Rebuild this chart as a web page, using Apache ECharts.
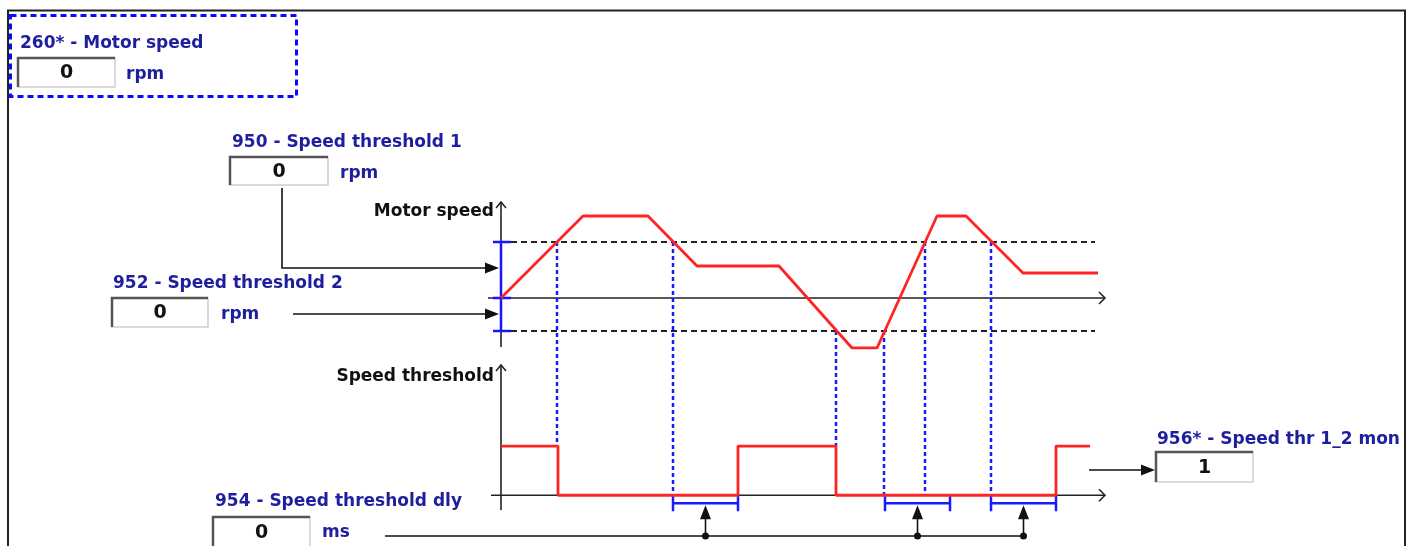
<!DOCTYPE html>
<html><head><meta charset="utf-8">
<script src="https://cdn.jsdelivr.net/npm/echarts@6/dist/echarts.min.js"></script>
<style>html,body{margin:0;padding:0;background:#fff;}#c{width:1413px;height:546px;}</style>
</head><body><div id="c"></div>
<script>
// ---- data (time in arbitrary units, speed in arbitrary units) ----
const timeUnits = [0, 82, 147, 196, 278, 351, 376, 436, 465, 522, 597];
const motorSpeed = [0, 82, 82, 32, 32, -50, -50, 82, 82, 25, 25];
const speedThreshold1 = 56;
const speedThreshold2 = -33;
const monTime = [0, 57, 237, 335, 555, 589];
const monState = [1, 0, 1, 0, 1, 1];
const crossTime = [56, 172, 335, 383, 424, 490];
const crossLevel = [56, 56, -33, -33, 56, 56];
const crossEndState = [1, 0, 1, 0, 0, 0];
const delayStart = [172, 384, 490];
const delayLength = 65;
const paramTitles = ['260* - Motor speed', '950 - Speed threshold 1', '952 - Speed threshold 2', '954 - Speed threshold dly', '956* - Speed thr 1_2 mon'];
const paramValues = ['0', '0', '0', '0', '1'];
const paramUnits = ['rpm', 'rpm', 'rpm', 'ms', ''];
const axisNames = ['Motor speed', 'Speed threshold'];

const BLUE_TXT = '#1e1e9e';
const RED = '#ff2424';
const FONT = 'DejaVu Sans';
const FS = 17;

const chart = echarts.init(document.getElementById('c'));
chart.setOption({
  animation: false,
  grid: [
    {left: 501, top: 202, width: 604, height: 146},
    {left: 501, top: 365, width: 604, height: 145}
  ],
  xAxis: [
    {gridIndex: 0, type: 'value', min: 0, max: 604, show: false},
    {gridIndex: 1, type: 'value', min: 0, max: 604, show: false}
  ],
  yAxis: [
    {gridIndex: 0, type: 'value', min: -50, max: 96, show: false},
    {gridIndex: 1, type: 'value', min: -0.3, max: 2.65, show: false}
  ],
  series: [
    {type: 'line', xAxisIndex: 0, yAxisIndex: 0, symbol: 'none', z: 10,
     data: timeUnits.map((t, i) => [t, motorSpeed[i]]),
     lineStyle: {color: RED, width: 2.8}},
    {type: 'line', xAxisIndex: 1, yAxisIndex: 1, symbol: 'none', step: 'end', z: 10,
     data: monTime.map((t, i) => [t, monState[i]]),
     lineStyle: {color: RED, width: 2.8}}
  ]
});

const P0 = (t, v) => chart.convertToPixel({gridIndex: 0}, [t, v]);
const P1 = (t, v) => chart.convertToPixel({gridIndex: 1}, [t, v]);

const g = [];
function line(x1, y1, x2, y2, stroke, w, dash, z) {
  g.push({type: 'line', z: z || 2, shape: {x1, y1, x2, y2},
    style: {stroke, lineWidth: w, lineDash: dash || null}});
}
function poly(points, fill, z) {
  g.push({type: 'polygon', z: z || 3, shape: {points}, style: {fill}});
}
function chev(points, z) {
  g.push({type: 'polyline', z: z || 3, shape: {points}, style: {stroke: '#222', lineWidth: 1.5, fill: null}});
}
function text(x, y, str, color, align, size, weight) {
  g.push({type: 'text', z: 6, x, y, style: {text: str, fill: color, align: align || 'left',
    verticalAlign: 'middle', fontFamily: FONT, fontSize: size || FS, fontWeight: weight || 'bold'}});
}
function arrowR(x, y) { poly([[x, y], [x - 14, y - 5.5], [x - 14, y + 5.5]], '#111'); }
function arrowU(x, y) { poly([[x, y], [x - 5.5, y + 14], [x + 5.5, y + 14]], '#111'); }
function box(x, y, w, h, val) {
  g.push({type: 'rect', z: 4, shape: {x, y, width: w, height: h}, style: {fill: '#fff', stroke: '#d0d0d0', lineWidth: 1.5}});
  g.push({type: 'polyline', z: 5, shape: {points: [[x, y + h], [x, y], [x + w, y]]}, style: {stroke: '#555', lineWidth: 2.5, fill: null}});
  text(x + w / 2, y + h / 2 + 1, val, '#111', 'center', 19, 'bold');
}

// frame
g.push({type: 'rect', z: 20, shape: {x: 8, y: 10.5, width: 1397, height: 560}, style: {fill: null, stroke: '#222', lineWidth: 2}});
// dashed selection box
g.push({type: 'rect', z: 7, shape: {x: 10.5, y: 15.5, width: 286, height: 81}, style: {fill: null, stroke: '#0a0aff', lineWidth: 3, lineDash: [6, 4]}});

// parameter blocks
text(20, 44, paramTitles[0], BLUE_TXT); box(18, 58, 97, 29, paramValues[0]); text(126, 75, paramUnits[0], BLUE_TXT);
text(232, 143, paramTitles[1], BLUE_TXT); box(230, 157, 98, 28, paramValues[1]); text(340, 174, paramUnits[1], BLUE_TXT);
text(113, 284, paramTitles[2], BLUE_TXT); box(112, 298, 96, 29, paramValues[2]); text(221, 315, paramUnits[2], BLUE_TXT);
text(215, 502, paramTitles[3], BLUE_TXT); box(213, 517, 97, 30, paramValues[3]); text(322, 533, paramUnits[3], BLUE_TXT);
text(1157, 440, paramTitles[4], BLUE_TXT); box(1156, 452, 97, 30, paramValues[4]);

// ---- motor speed diagram ----
const o0 = P0(0, 0);
const top0 = P0(0, 96), bot0 = P0(0, -50);
const end0 = P0(604, 0);
text(494, 212, axisNames[0], '#111', 'right');
line(o0[0], top0[1], o0[0], bot0[1] - 1, '#222', 1.6);
chev([[o0[0] - 5, top0[1] + 6], [o0[0], top0[1]], [o0[0] + 5, top0[1] + 6]]);
line(488, o0[1], end0[0], o0[1], '#222', 1.6);
chev([[end0[0] - 6, o0[1] - 6], [end0[0], o0[1]], [end0[0] - 6, o0[1] + 6]]);
// threshold lines
const t1a = P0(0, speedThreshold1), t1b = P0(594, speedThreshold1);
const t2a = P0(0, speedThreshold2), t2b = P0(594, speedThreshold2);
line(t1a[0], t1a[1], t1b[0], t1b[1], '#222', 2.2, [6, 4]);
line(t2a[0], t2a[1], t2b[0], t2b[1], '#222', 2.2, [6, 4]);
// blue scale on axis
line(o0[0], t1a[1], o0[0], t2a[1], '#1414ff', 2.5, null, 4);
[t1a[1], o0[1], t2a[1]].forEach(y => line(o0[0] - 8, y, o0[0] + 10, y, '#1414ff', 2.5, null, 4));
// arrows from threshold inputs
const a1 = P0(-2, 30), a2 = P0(-2, -16);
g.push({type: 'polyline', z: 3, shape: {points: [[282, 188], [282, a1[1]], [a1[0] - 12, a1[1]]]}, style: {stroke: '#111', lineWidth: 1.6, fill: null}});
arrowR(a1[0], a1[1]);
line(293, a2[1], a2[0] - 12, a2[1], '#111', 1.6);
arrowR(a2[0], a2[1]);

// ---- speed threshold diagram ----
const o1 = P1(0, 0);
const top1 = P1(0, 2.65), bot1 = P1(0, -0.3);
const end1 = P1(604, 0);
text(494, 377, axisNames[1], '#111', 'right');
line(o1[0], top1[1], o1[0], bot1[1], '#222', 1.6);
chev([[o1[0] - 5, top1[1] + 6], [o1[0], top1[1]], [o1[0] + 5, top1[1] + 6]]);
line(491, o1[1], end1[0], o1[1], '#222', 1.6);
chev([[end1[0] - 6, o1[1] - 6], [end1[0], o1[1]], [end1[0] - 6, o1[1] + 6]]);

// crossing projections
crossTime.forEach((t, i) => {
  const a = P0(t, crossLevel[i]);
  const b = P1(t, crossEndState[i]);
  line(a[0], a[1], b[0], b[1], '#1a1aff', 2.5, [4, 3], 3);
});

// delay brackets and arrows
const busY = 536;
delayStart.forEach(t => {
  const a = P1(t, 0), b = P1(t + delayLength, 0), m = P1(t + delayLength / 2, 0);
  const by = a[1] + 8;
  line(a[0], by, b[0], by, '#1a1aff', 2.5, null, 4);
  line(a[0], a[1], a[0], a[1] + 16, '#1a1aff', 2.5, null, 4);
  line(b[0], b[1], b[0], b[1] + 16, '#1a1aff', 2.5, null, 4);
  line(m[0], busY, m[0], by + 12, '#111', 1.6);
  arrowU(m[0], by + 2);
  g.push({type: 'circle', z: 4, shape: {cx: m[0], cy: busY, r: 3.5}, style: {fill: '#111'}});
});
const lastMid = P1(delayStart[delayStart.length - 1] + delayLength / 2, 0);
line(385, busY, lastMid[0], busY, '#111', 1.6);

// output arrow
const oEnd = P1(monTime[monTime.length - 1], 0);
line(oEnd[0] - 1, 470, 1142, 470, '#111', 1.6);
arrowR(1155, 470);

chart.setOption({graphic: {elements: g}});
</script></body></html>
